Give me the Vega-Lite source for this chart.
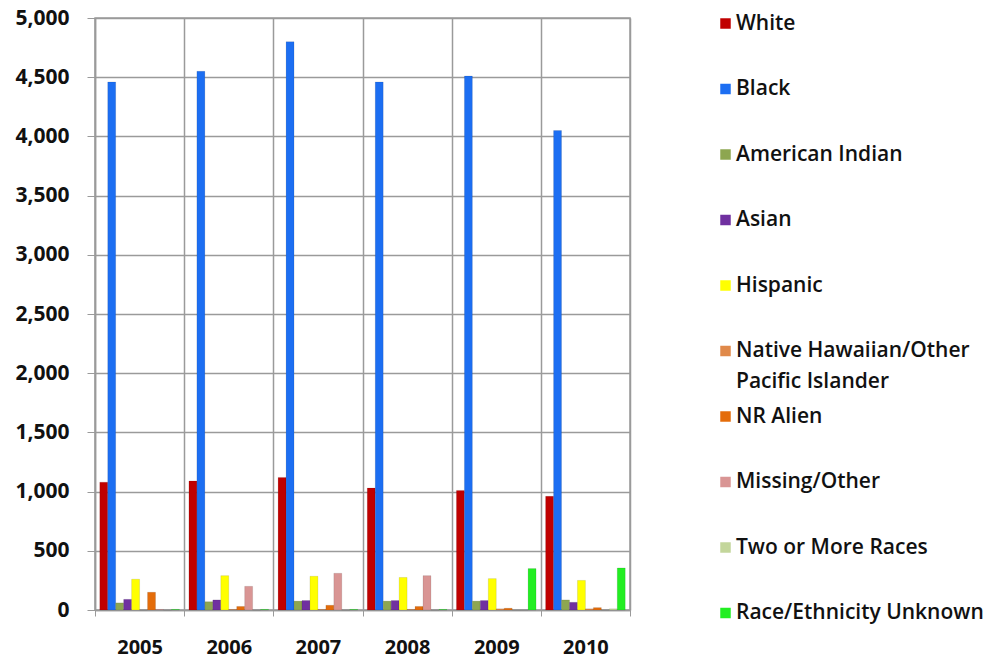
{
  "$schema": "https://vega.github.io/schema/vega-lite/v6.json",
  "autosize": "none",
  "width": 535,
  "height": 592,
  "padding": {"left": 95, "top": 18, "right": 360, "bottom": 50},
  "background": "white",
  "config": {
    "font": "Open Sans",
    "view": {"stroke": "#9a9a9a", "strokeWidth": 1.5},
    "style": {"guide-label": {"lineHeight": 31}}
  },
  "data": {
    "values": [
      {"year": "2005", "group": "White", "value": 1080},
      {"year": "2005", "group": "Black", "value": 4460},
      {"year": "2005", "group": "American Indian", "value": 60},
      {"year": "2005", "group": "Asian", "value": 90},
      {"year": "2005", "group": "Hispanic", "value": 260},
      {"year": "2005", "group": "Native Hawaiian/Other Pacific Islander", "value": 0},
      {"year": "2005", "group": "NR Alien", "value": 150},
      {"year": "2005", "group": "Missing/Other", "value": 5},
      {"year": "2005", "group": "Two or More Races", "value": 0},
      {"year": "2005", "group": "Race/Ethnicity Unknown", "value": 5},
      {"year": "2006", "group": "White", "value": 1090},
      {"year": "2006", "group": "Black", "value": 4550},
      {"year": "2006", "group": "American Indian", "value": 70},
      {"year": "2006", "group": "Asian", "value": 85},
      {"year": "2006", "group": "Hispanic", "value": 290},
      {"year": "2006", "group": "Native Hawaiian/Other Pacific Islander", "value": 5},
      {"year": "2006", "group": "NR Alien", "value": 30},
      {"year": "2006", "group": "Missing/Other", "value": 200},
      {"year": "2006", "group": "Two or More Races", "value": 0},
      {"year": "2006", "group": "Race/Ethnicity Unknown", "value": 5},
      {"year": "2007", "group": "White", "value": 1120},
      {"year": "2007", "group": "Black", "value": 4800},
      {"year": "2007", "group": "American Indian", "value": 75},
      {"year": "2007", "group": "Asian", "value": 80},
      {"year": "2007", "group": "Hispanic", "value": 285},
      {"year": "2007", "group": "Native Hawaiian/Other Pacific Islander", "value": 5},
      {"year": "2007", "group": "NR Alien", "value": 40},
      {"year": "2007", "group": "Missing/Other", "value": 310},
      {"year": "2007", "group": "Two or More Races", "value": 0},
      {"year": "2007", "group": "Race/Ethnicity Unknown", "value": 5},
      {"year": "2008", "group": "White", "value": 1030},
      {"year": "2008", "group": "Black", "value": 4460},
      {"year": "2008", "group": "American Indian", "value": 75},
      {"year": "2008", "group": "Asian", "value": 80},
      {"year": "2008", "group": "Hispanic", "value": 275},
      {"year": "2008", "group": "Native Hawaiian/Other Pacific Islander", "value": 5},
      {"year": "2008", "group": "NR Alien", "value": 30},
      {"year": "2008", "group": "Missing/Other", "value": 290},
      {"year": "2008", "group": "Two or More Races", "value": 0},
      {"year": "2008", "group": "Race/Ethnicity Unknown", "value": 5},
      {"year": "2009", "group": "White", "value": 1010},
      {"year": "2009", "group": "Black", "value": 4510},
      {"year": "2009", "group": "American Indian", "value": 75},
      {"year": "2009", "group": "Asian", "value": 80},
      {"year": "2009", "group": "Hispanic", "value": 265},
      {"year": "2009", "group": "Native Hawaiian/Other Pacific Islander", "value": 10},
      {"year": "2009", "group": "NR Alien", "value": 15},
      {"year": "2009", "group": "Missing/Other", "value": 0},
      {"year": "2009", "group": "Two or More Races", "value": 0},
      {"year": "2009", "group": "Race/Ethnicity Unknown", "value": 350},
      {"year": "2010", "group": "White", "value": 960},
      {"year": "2010", "group": "Black", "value": 4050},
      {"year": "2010", "group": "American Indian", "value": 85},
      {"year": "2010", "group": "Asian", "value": 65},
      {"year": "2010", "group": "Hispanic", "value": 250},
      {"year": "2010", "group": "Native Hawaiian/Other Pacific Islander", "value": 10},
      {"year": "2010", "group": "NR Alien", "value": 20},
      {"year": "2010", "group": "Missing/Other", "value": 0},
      {"year": "2010", "group": "Two or More Races", "value": 10},
      {"year": "2010", "group": "Race/Ethnicity Unknown", "value": 355}
    ]
  },
  "mark": {"type": "bar", "stroke": "#00000033", "strokeWidth": 0.5},
  "encoding": {
    "x": {
      "field": "year",
      "type": "nominal",
      "scale": {"paddingInner": 0, "paddingOuter": 0},
      "axis": {
        "title": null,
        "labelAngle": 0,
        "tickBand": "extent",
        "grid": true,
        "gridColor": "#9a9a9a",
        "gridWidth": 1.5,
        "domainColor": "#9a9a9a",
        "domainWidth": 1.5,
        "tickColor": "#9a9a9a",
        "tickSize": 6,
        "labelFontSize": 20,
        "labelFontWeight": "bold",
        "labelColor": "#111111",
        "labelPadding": 21
      }
    },
    "xOffset": {
      "field": "group",
      "type": "nominal",
      "sort": ["White", "Black", "American Indian", "Asian", "Hispanic", "Native Hawaiian/Other Pacific Islander", "NR Alien", "Missing/Other", "Two or More Races", "Race/Ethnicity Unknown"],
      "scale": {"paddingInner": 0, "paddingOuter": 0.6}
    },
    "y": {
      "field": "value",
      "type": "quantitative",
      "scale": {"domain": [0, 5000]},
      "axis": {
        "title": null,
        "values": [0, 500, 1000, 1500, 2000, 2500, 3000, 3500, 4000, 4500, 5000],
        "format": ",.0f",
        "gridColor": "#9a9a9a",
        "gridWidth": 1.5,
        "domainColor": "#9a9a9a",
        "domainWidth": 1.5,
        "tickColor": "#9a9a9a",
        "tickSize": 8,
        "labelFontSize": 21,
        "labelFontWeight": "bold",
        "labelColor": "#111111",
        "labelPadding": 18
      }
    },
    "color": {
      "field": "group",
      "type": "nominal",
      "sort": ["White", "Black", "American Indian", "Asian", "Hispanic", "Native Hawaiian/Other Pacific Islander", "NR Alien", "Missing/Other", "Two or More Races", "Race/Ethnicity Unknown"],
      "scale": {
        "domain": ["White", "Black", "American Indian", "Asian", "Hispanic", "Native Hawaiian/Other Pacific Islander", "NR Alien", "Missing/Other", "Two or More Races", "Race/Ethnicity Unknown"],
        "range": ["#C00000", "#1C6EF2", "#8DA650", "#7030A0", "#FFFF00", "#E0894A", "#E46C0A", "#D99594", "#C3D69B", "#22EE22"]
      },
      "legend": {
        "title": null,
        "orient": "none",
        "legendX": 620,
        "legendY": -5,
        "gridAlign": "all",
        "symbolType": "square",
        "symbolSize": 110,
        "symbolStrokeWidth": 0,
        "symbolOpacity": 1,
        "labelFontSize": 21,
        "labelFontWeight": 600,
        "labelColor": "#111111",
        "labelLimit": 300,
        "labelOffset": 0,
        "rowPadding": 12.5,
        "labelExpr": "datum.label == 'Native Hawaiian/Other Pacific Islander' ? ['Native Hawaiian/Other', 'Pacific Islander'] : datum.label",
        "encode": {
          "labels": {
            "enter": {"lineHeight": {"value": 31}},
            "update": {
              "baseline": {"value": "top"},
              "dy": {"value": -12},
              "lineHeight": {"value": 31}
            }
          }
        }
      }
    }
  }
}
